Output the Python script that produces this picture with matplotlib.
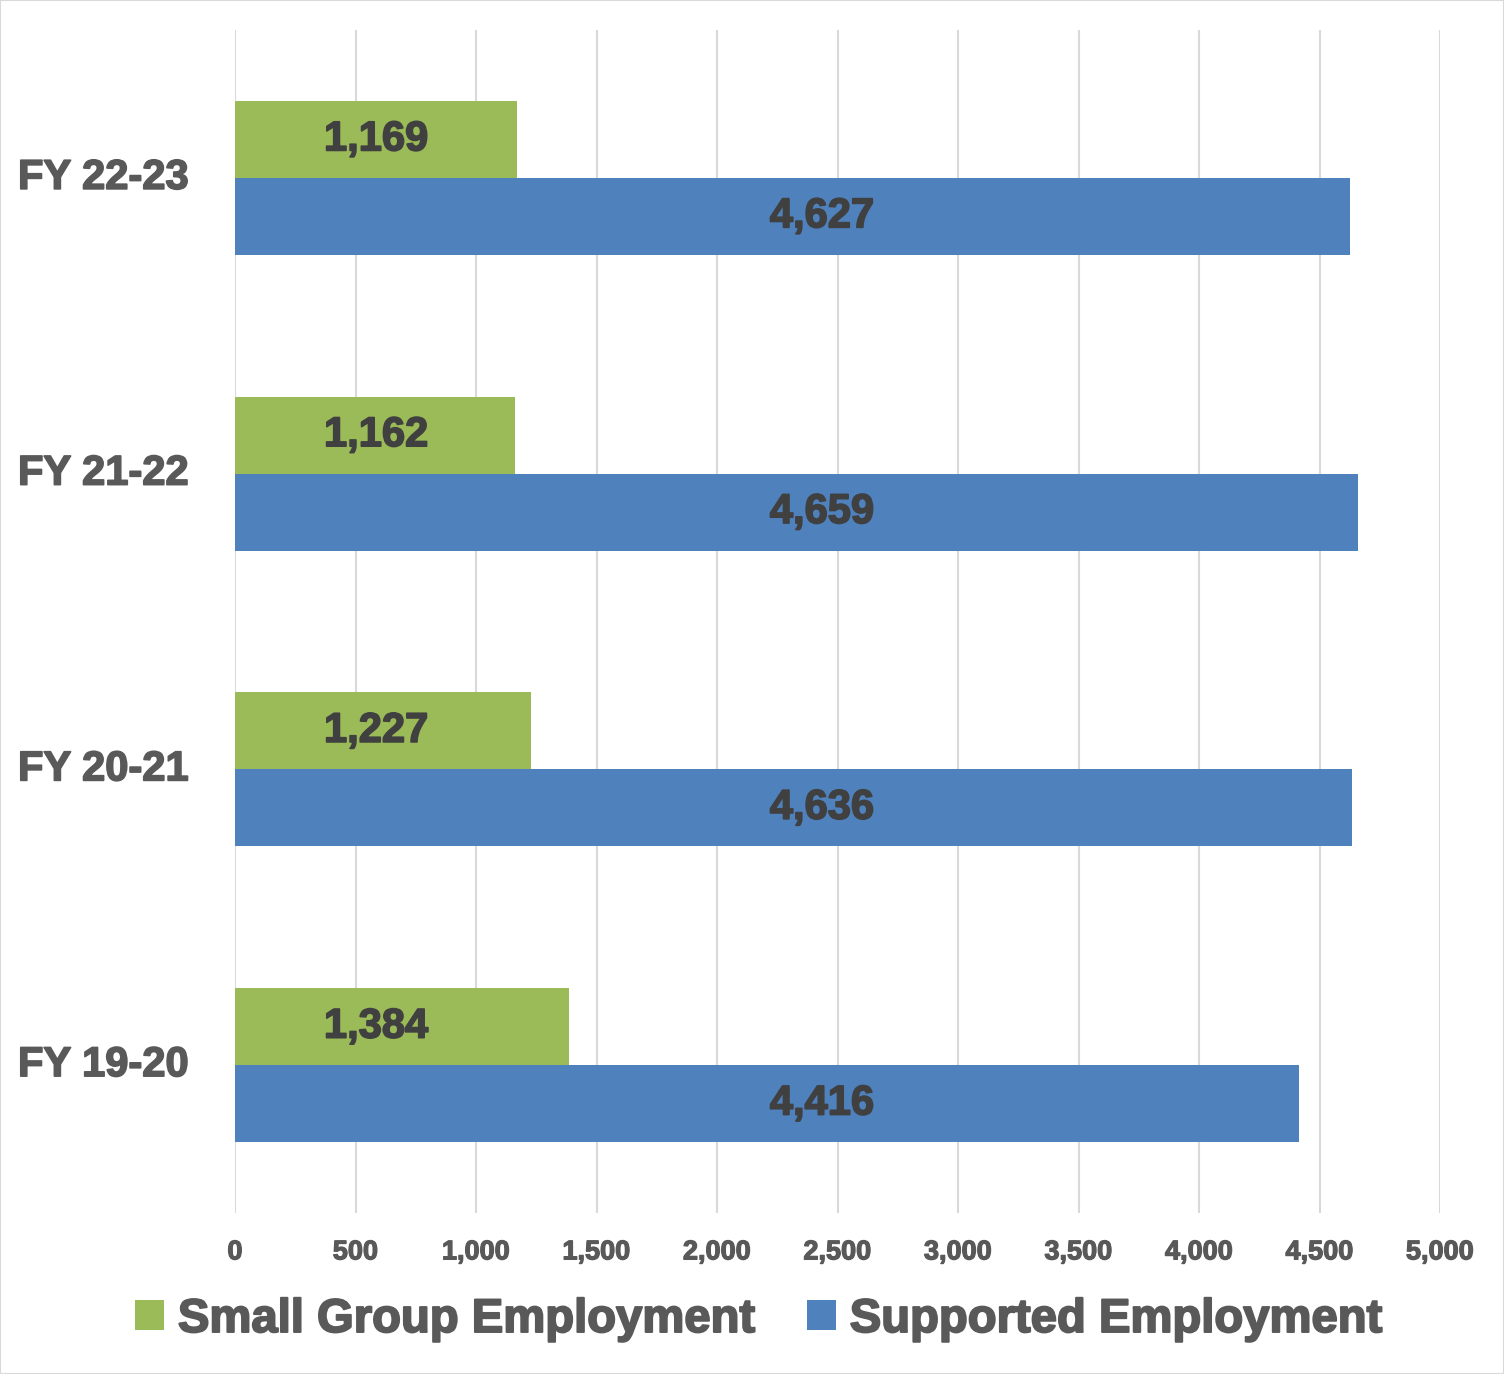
import matplotlib
matplotlib.use("Agg")
import matplotlib.pyplot as plt
from matplotlib.patches import Rectangle, Patch
import matplotlib.patheffects as pe
import numpy as np

categories = ["FY 19-20", "FY 20-21", "FY 21-22", "FY 22-23"]
small_group = [1384, 1227, 1162, 1169]
supported = [4416, 4636, 4659, 4627]
series_names = ["Small Group Employment", "Supported Employment"]
xticks = [0, 500, 1000, 1500, 2000, 2500, 3000, 3500, 4000, 4500, 5000]

plt.rcParams['font.family'] = ['Liberation Sans', 'DejaVu Sans']
GREEN = "#9BBB59"
BLUE = "#4F81BD"
LABEL = "#595959"
DARK = "#404040"

def thick(color, w):
    return [pe.withStroke(linewidth=w, foreground=color)]

fig = plt.figure(figsize=(15.04, 13.74), dpi=100)
ax = fig.add_axes([235/1504, 1-1213/1374, (1440-235)/1504, (1213-30)/1374])

y = np.arange(len(categories))
h = 0.26
ax.barh(y + h/2, small_group, height=h, color=GREEN, zorder=3)
ax.barh(y - h/2, supported, height=h, color=BLUE, zorder=3)

for yi, v in zip(y, small_group):
    ax.text(585, yi + h/2, f"{v:,}", ha="center", va="center", fontsize=30,
            fontweight="bold", color=DARK, zorder=4, path_effects=thick(DARK, 1.2))
for yi, v in zip(y, supported):
    ax.text(2435, yi - h/2, f"{v:,}", ha="center", va="center", fontsize=30,
            fontweight="bold", color=DARK, zorder=4, path_effects=thick(DARK, 1.2))

ax.set_xlim(0, 5000)
ax.set_ylim(-0.5, len(categories) - 0.5)
ax.set_xticks(xticks)
ax.set_xticklabels([f"{t:,}" for t in xticks], fontsize=19.5, fontweight="bold", color=LABEL)
for lbl in ax.get_xticklabels():
    lbl.set_path_effects(thick(LABEL, 0.9))
ax.set_yticks(y)
ax.set_yticklabels(categories, fontsize=30, fontweight="bold", color=LABEL)
for lbl in ax.get_yticklabels():
    lbl.set_horizontalalignment("left")
    lbl.set_verticalalignment("center")
    lbl.set_path_effects(thick(LABEL, 1.2))
ax.tick_params(axis="both", length=0)
ax.tick_params(axis="x", pad=19)
ax.tick_params(axis="y", pad=(235 - 18) * 72 / 100)
ax.grid(axis="x", color="#D9D9D9", linewidth=1.5, zorder=0)
for s in ax.spines.values():
    s.set_visible(False)

handles = [Patch(facecolor=GREEN), Patch(facecolor=BLUE)]
leg = fig.legend(handles, series_names, loc="center", bbox_to_anchor=(0.5047, 1-1320/1374),
                 ncol=2, frameon=False, prop={"size": 34, "weight": "bold"},
                 handlelength=0.6, handleheight=0.6, handletextpad=0.3, columnspacing=1.1,
                 labelcolor=LABEL)
for t in leg.get_texts():
    t.set_path_effects(thick(LABEL, 1.4))

fig.patches.append(Rectangle((0, 0), 1, 1, transform=fig.transFigure, fill=False,
                             edgecolor="#D9D9D9", linewidth=1.5))

fig.savefig("out.png", dpi=100)
